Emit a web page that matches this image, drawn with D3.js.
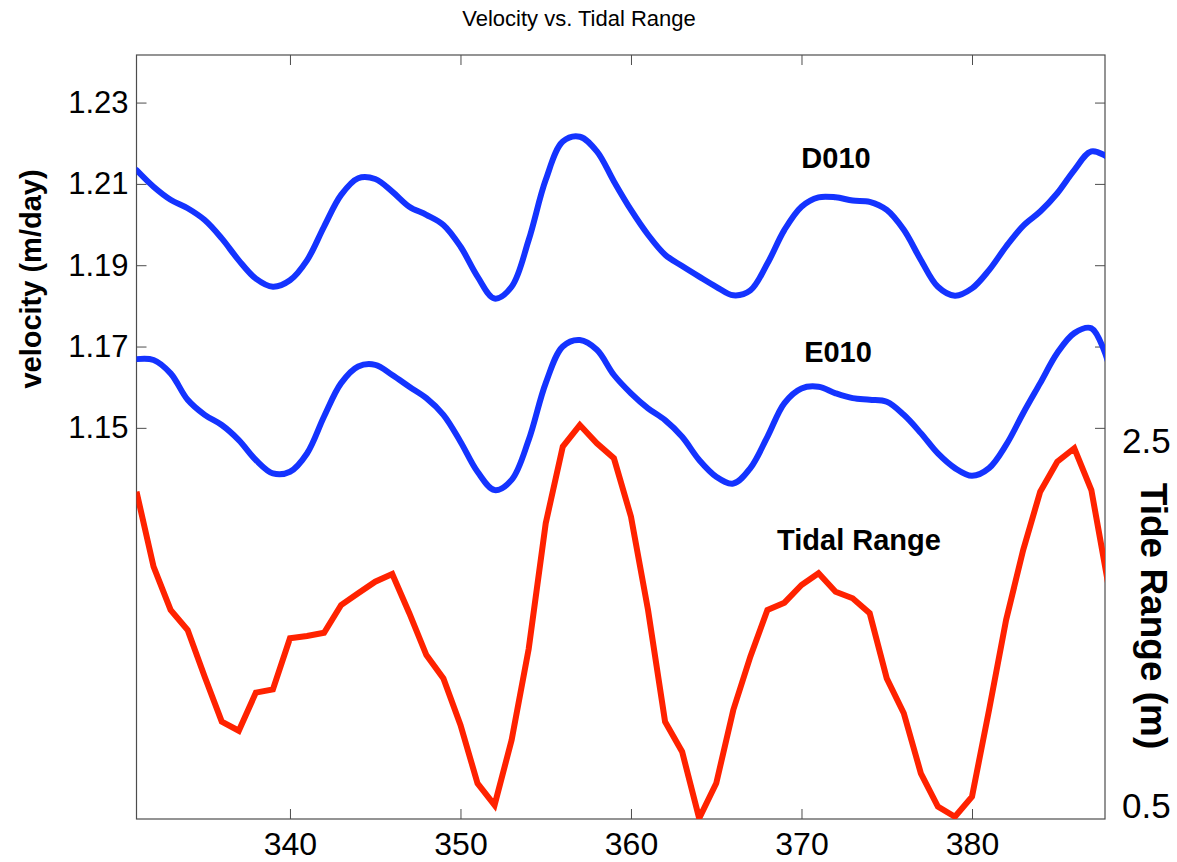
<!DOCTYPE html>
<html>
<head>
<meta charset="utf-8">
<script src="https://cdn.jsdelivr.net/npm/d3@7"></script>
<style>
  html, body { margin: 0; padding: 0; background: #ffffff; }
  svg { display: block; font-family: "Liberation Sans", Arial, Helvetica, sans-serif; }
</style>
</head>
<body>
<svg id="chart" width="1177" height="862"></svg>
<script>
// Day of year
const days = [331, 332, 333, 334, 335, 336, 337, 338, 339, 340,
              341, 342, 343, 344, 345, 346, 347, 348, 349, 350,
              351, 352, 353, 354, 355, 356, 357, 358, 359, 360,
              361, 362, 363, 364, 365, 366, 367, 368, 369, 370,
              371, 372, 373, 374, 375, 376, 377, 378, 379, 380,
              381, 382, 383, 384, 385, 386, 387, 388];

// Ice velocity at station D010 (m/day)
const d010 = [1.2134, 1.2093, 1.2061, 1.2040, 1.2011, 1.1966, 1.1912, 1.1867, 1.1847, 1.1863,
              1.1912, 1.1995, 1.2073, 1.2114, 1.2112, 1.2081, 1.2044, 1.2024, 1.1999, 1.1946,
              1.1872, 1.1818, 1.1847, 1.1962, 1.2110, 1.2204, 1.2216, 1.2180, 1.2106, 1.2036,
              1.1975, 1.1926, 1.1898, 1.1872, 1.1847, 1.1826, 1.1838, 1.1904, 1.1987, 1.2044,
              1.2067, 1.2067, 1.2059, 1.2056, 1.2036, 1.1987, 1.1913, 1.1847, 1.1825, 1.1843,
              1.1888, 1.1946, 1.1997, 1.2032, 1.2077, 1.2134, 1.2180, 1.2165];

// Ice velocity at station E010 (m/day)
const e010 = [1.1669, 1.1667, 1.1634, 1.1569, 1.1532, 1.1507, 1.1470, 1.1421, 1.1388, 1.1392,
              1.1437, 1.1528, 1.1610, 1.1651, 1.1655, 1.1630, 1.1601, 1.1573, 1.1532, 1.1466,
              1.1392, 1.1347, 1.1372, 1.1470, 1.1610, 1.1700, 1.1716, 1.1692, 1.1630, 1.1585,
              1.1548, 1.1519, 1.1478, 1.1421, 1.1380, 1.1363, 1.1401, 1.1478, 1.1561, 1.1597,
              1.1601, 1.1585, 1.1573, 1.1569, 1.1564, 1.1532, 1.1487, 1.1437, 1.1401, 1.1382,
              1.1401, 1.1458, 1.1536, 1.1610, 1.1684, 1.1733, 1.1745, 1.1660];

// Daily tidal range (m)
const tide = [2.225, 1.814, 1.577, 1.467, 1.211, 0.965, 0.915, 1.124, 1.142, 1.422,
              1.434, 1.452, 1.604, 1.668, 1.732, 1.774, 1.559, 1.330, 1.202, 0.947,
              0.627, 0.508, 0.864, 1.363, 2.052, 2.472, 2.590, 2.490, 2.408, 2.088,
              1.577, 0.965, 0.800, 0.435, 0.627, 1.029, 1.321, 1.577, 1.617, 1.714,
              1.778, 1.677, 1.641, 1.559, 1.202, 1.011, 0.682, 0.499, 0.444, 0.554,
              1.029, 1.522, 1.905, 2.225, 2.389, 2.463, 2.234, 1.714];

const xTicks = [340, 350, 360, 370, 380];
const velTicks = [1.15, 1.17, 1.19, 1.21, 1.23];
const tideTicks = [0.5, 2.5];

const svg = d3.select("#chart");
const W = 1177, H = 862;
const plot = { left: 136.5, right: 1105, top: 55, bottom: 819 };

svg.append("rect").attr("width", W).attr("height", H).attr("fill", "#ffffff");

const x = d3.scaleLinear().domain([331.0, 387.8]).range([plot.left, plot.right]);
const yVel = d3.scaleLinear().domain([1.0538, 1.2417]).range([plot.bottom, plot.top]);
const yTide = d3.scaleLinear().domain([0.4315, 4.6178]).range([plot.bottom, plot.top]);

const axisColor = "#4d4d4d";

svg.append("defs").append("clipPath").attr("id", "plot-clip")
  .append("rect")
  .attr("x", plot.left).attr("y", plot.top)
  .attr("width", plot.right - plot.left).attr("height", plot.bottom - plot.top);

function styleAxis(g, fontSize) {
  g.select(".domain").remove();
  g.selectAll(".tick line").attr("stroke", axisColor).attr("stroke-width", 1);
  g.selectAll(".tick text")
    .attr("fill", "#000")
    .style("font-size", fontSize + "px")
    .style("font-family", '"Liberation Sans", Arial, Helvetica, sans-serif');
}

// Bottom axis with labels, top axis ticks only
svg.append("g")
  .attr("transform", `translate(0,${plot.bottom})`)
  .call(d3.axisBottom(x).tickValues(xTicks).tickSizeInner(-10).tickSizeOuter(0).tickPadding(13).tickFormat(d3.format("d")))
  .call(g => styleAxis(g, 32));

svg.append("g")
  .attr("transform", `translate(0,${plot.top})`)
  .call(d3.axisTop(x).tickValues(xTicks).tickSizeInner(-10).tickSizeOuter(0).tickFormat(""))
  .call(g => styleAxis(g, 32));

// Velocity axis on the left, mirrored ticks on the right
svg.append("g")
  .attr("transform", `translate(${plot.left},0)`)
  .call(d3.axisLeft(yVel).tickValues(velTicks).tickSizeInner(-10).tickSizeOuter(0).tickPadding(8).tickFormat(d3.format(".2f")))
  .call(g => styleAxis(g, 31));

svg.append("g")
  .attr("transform", `translate(${plot.right},0)`)
  .call(d3.axisRight(yVel).tickValues(velTicks).tickSizeInner(-10).tickSizeOuter(0).tickFormat(""))
  .call(g => styleAxis(g, 31));

// Tide range axis on the right (labels only)
svg.append("g")
  .attr("transform", `translate(${plot.right},0)`)
  .call(d3.axisRight(yTide).tickValues(tideTicks).tickSize(0).tickPadding(17).tickFormat(d3.format(".1f")))
  .call(g => styleAxis(g, 35))
  .call(g => g.selectAll(".tick line").remove());

// Plot frame
svg.append("rect")
  .attr("x", plot.left).attr("y", plot.top)
  .attr("width", plot.right - plot.left).attr("height", plot.bottom - plot.top)
  .attr("fill", "none").attr("stroke", axisColor).attr("stroke-width", 1.2);

const lines = svg.append("g").attr("clip-path", "url(#plot-clip)");

const velLine = series => d3.line()
  .x((d, i) => x(days[i]))
  .y(d => yVel(d))
  .curve(d3.curveCatmullRom.alpha(0.5))(series);

lines.append("path").attr("d", velLine(d010))
  .attr("fill", "none").attr("stroke", "#1433ff").attr("stroke-width", 6)
  .attr("stroke-linejoin", "round").attr("stroke-linecap", "round");

lines.append("path").attr("d", velLine(e010))
  .attr("fill", "none").attr("stroke", "#1433ff").attr("stroke-width", 6)
  .attr("stroke-linejoin", "round").attr("stroke-linecap", "round");

const tideLine = d3.line()
  .x((d, i) => x(days[i]))
  .y(d => yTide(d));

lines.append("path").attr("d", tideLine(tide))
  .attr("fill", "none").attr("stroke", "#ff2200").attr("stroke-width", 6)
  .attr("stroke-linejoin", "miter").attr("stroke-miterlimit", 3);

// Series labels
const labelStyle = sel => sel
  .attr("text-anchor", "middle")
  .attr("fill", "#000")
  .style("font-size", "29px")
  .style("font-weight", "bold");

svg.append("text").attr("x", 836).attr("y", 168).text("D010").call(labelStyle);
svg.append("text").attr("x", 838).attr("y", 362).text("E010").call(labelStyle);
svg.append("text").attr("x", 859).attr("y", 550).text("Tidal Range").call(labelStyle);

// Title
svg.append("text")
  .attr("x", 579).attr("y", 26)
  .attr("text-anchor", "middle")
  .attr("fill", "#000")
  .style("font-size", "22px")
  .text("Velocity vs. Tidal Range");

// Axis titles
svg.append("text")
  .attr("transform", "translate(41,279) rotate(-90)")
  .attr("text-anchor", "middle")
  .attr("fill", "#000")
  .style("font-size", "29px")
  .style("font-weight", "bold")
  .text("velocity (m/day)");

svg.append("text")
  .attr("transform", "translate(1141,616) rotate(90)")
  .attr("text-anchor", "middle")
  .attr("fill", "#000")
  .style("font-size", "37px")
  .style("font-weight", "bold")
  .text("Tide Range (m)");
</script>
</body>
</html>
